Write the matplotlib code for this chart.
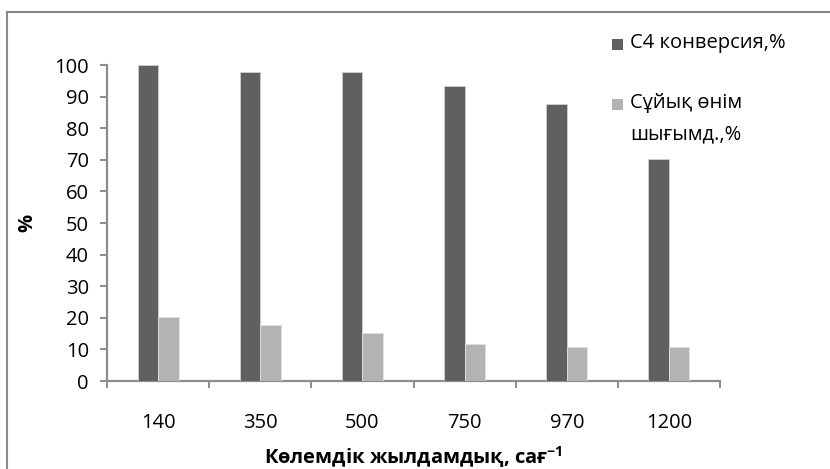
import matplotlib
matplotlib.use("Agg")
import matplotlib.pyplot as plt
from matplotlib.patches import Rectangle
from matplotlib.lines import Line2D
import numpy as np

# Data
categories = ["140", "350", "500", "750", "970", "1200"]
c4_conversion = [100.0, 97.7, 97.7, 93.3, 87.6, 70.2]
liquid_yield = [20.4, 17.7, 15.3, 11.7, 10.8, 10.8]
series_labels = ["С4 конверсия,%", "Сұйық өнім\nшығымд.,%"]
y_ticks = [0, 10, 20, 30, 40, 50, 60, 70, 80, 90, 100]

DARK = "#606060"
LIGHT = "#b3b3b3"
AXIS = "#8c8c8c"
FONT = "Open Sans"
FS = 14.5

plt.rcParams["font.family"] = [FONT, "DejaVu Sans"]
plt.rcParams["mathtext.fontset"] = "custom"
plt.rcParams["mathtext.rm"] = FONT
plt.rcParams["mathtext.bf"] = FONT + ":bold"

W, H = 830, 469
fig = plt.figure(figsize=(W / 100, H / 100), dpi=100)


def px(x, y):
    """Pixel position (from top-left) to figure fraction."""
    return x / W, 1 - y / H


# Plot area in pixels
x0, x1 = 107, 720
y_top, y_bot = 65, 381
ax = fig.add_axes([x0 / W, 1 - y_bot / H, (x1 - x0) / W, (y_bot - y_top) / H])

n = len(categories)
idx = np.arange(n)
bw = 0.2
ax.bar(idx - bw / 2, c4_conversion, width=bw, color=DARK,
       edgecolor="#d0d0d0", linewidth=0.6, zorder=3)
ax.bar(idx + bw / 2, liquid_yield, width=bw, color=LIGHT,
       edgecolor="#e0e0e0", linewidth=0.6, zorder=3)

ax.set_xlim(-0.5, n - 0.5)
ax.set_ylim(0, 100)

for s in ("top", "right"):
    ax.spines[s].set_visible(False)
for s in ("left", "bottom"):
    ax.spines[s].set_color(AXIS)
    ax.spines[s].set_linewidth(1.6)

ax.set_yticks(y_ticks)
ax.set_yticklabels([str(t) for t in y_ticks])
ax.tick_params(axis="y", direction="out", length=5, width=1.4, color=AXIS,
               pad=8, labelsize=FS, labelcolor="black")

ax.set_xticks(idx)
ax.set_xticklabels(categories)
ax.set_xticks(np.arange(n + 1) - 0.5, minor=True)
ax.tick_params(axis="x", which="major", length=0, pad=23, labelsize=FS,
               labelcolor="black")
ax.tick_params(axis="x", which="minor", direction="out", length=5, width=1.4,
               color=AXIS)

# Axis titles
fig.text(*px(413, 457), r"Көлемдік жылдамдық, сағ$^{\mathbf{-1}}$",
         ha="center", va="center", fontsize=FS, fontweight="bold")
fig.text(*px(27, 223), "%", ha="center", va="center", rotation=90,
         fontsize=FS, fontweight="bold")

# Legend
legend_rows = [(44, series_labels[0], DARK), (104, series_labels[1], LIGHT)]
for yc, label, col in legend_rows:
    fx, fy = px(612, yc + 6)
    fig.patches.append(Rectangle((fx, fy), 11 / W, 11 / H, transform=fig.transFigure,
                                 facecolor=col, edgecolor="none"))
    fig.text(*px(630, yc - 11), label, ha="left", va="top", fontsize=FS,
             linespacing=1.75)

# Chart frame (left and top edges)
fig.add_artist(Line2D([7 / W, 7 / W], [0, 1 - 12 / H], transform=fig.transFigure,
                      color="#888888", linewidth=1.5))
fig.add_artist(Line2D([7 / W, 1], [1 - 12 / H, 1 - 12 / H], transform=fig.transFigure,
                      color="#888888", linewidth=1.5))

fig.savefig("out.png", dpi=100, facecolor="white")
